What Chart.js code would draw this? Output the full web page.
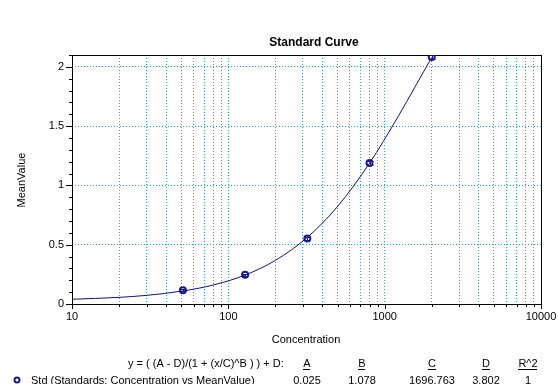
<!DOCTYPE html>
<html>
<head>
<meta charset="utf-8">
<script src="https://cdn.jsdelivr.net/npm/chart.js@4"></script>
<style>
  body { margin: 0; background: #fff; }
  #wrap { width: 558px; height: 384px; }
</style>
</head>
<body>
<div id="wrap"><canvas id="stdCurve" width="558" height="384"></canvas></div>
<script>
// standards (measured points)
const stdConc = [51.2, 128, 320, 800, 2000];
const stdMean = [0.115, 0.247, 0.553, 1.19, 2.083];
const stdErr  = [0.008, 0.008, 0.012, 0.015, 0.015];

// fitted curve
const fitConc = [10, 20, 30, 51.2, 80, 128, 200, 320, 500, 800, 1200, 1600, 2000];
const fitMean = [0.04, 0.056, 0.073, 0.11, 0.16, 0.244, 0.368, 0.562, 0.823, 1.188, 1.565, 1.854, 2.08];

// tick positions
const xTickValues = [10, 20, 30, 40, 50, 60, 70, 80, 90,
                     100, 200, 300, 400, 500, 600, 700, 800, 900,
                     1000, 2000, 3000, 4000, 5000, 6000, 7000, 8000, 9000, 10000];
const xTickLabels = ['10', '100', '1000', '10000'];
const yTickValues = [0, 0.1, 0.2, 0.3, 0.4, 0.5, 0.6, 0.7, 0.8, 0.9, 1, 1.1, 1.2, 1.3, 1.4,
                     1.5, 1.6, 1.7, 1.8, 1.9, 2, 2.1];
const yTickLabels = ['0', '0.5', '1', '1.5', '2'];

// fit parameters table
const paramNames  = ['A', 'B', 'C', 'D', 'R^2'];
const paramValues = ['0.025', '1.078', '1696.763', '3.802', '1'];

const FONT = '"Liberation Sans", Arial, sans-serif';
const NAVY = '#1a1a8c';
const GRID = '#22a8b8';

function isLabelled(v, labels) {
    return labels.some(l => Math.abs(parseFloat(l) - v) < 1e-6);
}

// frame, tick marks, error bars and all the loose text
const extras = {
    id: 'extras',
    afterDraw(chart) {
        const c = chart.ctx;
        const a = chart.chartArea;
        const xs = chart.scales.x, ys = chart.scales.y;
        c.save();

        // frame
        c.strokeStyle = '#000';
        c.lineWidth = 1;
        c.strokeRect(Math.round(a.left) + 0.5, Math.round(a.top) + 0.5,
                     Math.round(a.right - a.left), Math.round(a.bottom - a.top));

        // x ticks
        c.beginPath();
        xTickValues.forEach(v => {
            const px = Math.round(xs.getPixelForValue(v)) + 0.5;
            const len = isLabelled(v, xTickLabels) ? 5 : 3;
            c.moveTo(px, a.bottom);
            c.lineTo(px, a.bottom + len);
        });
        // y ticks
        yTickValues.forEach(v => {
            const py = Math.round(ys.getPixelForValue(v)) + 0.5;
            const len = isLabelled(v, yTickLabels) ? 6 : 3;
            c.moveTo(a.left, py);
            c.lineTo(a.left - len, py);
        });
        c.stroke();

        // error bars on standards
        c.strokeStyle = NAVY;
        c.lineWidth = 1;
        c.beginPath();
        stdConc.forEach((x, i) => {
            const px = Math.round(xs.getPixelForValue(x)) + 0.5;
            const top = Math.round(ys.getPixelForValue(stdMean[i] + stdErr[i])) + 0.5;
            const bot = Math.round(ys.getPixelForValue(stdMean[i] - stdErr[i])) + 0.5;
            c.moveTo(px, top); c.lineTo(px, bot);
            c.moveTo(px - 3, top); c.lineTo(px + 3, top);
            c.moveTo(px - 3, bot); c.lineTo(px + 3, bot);
        });
        c.stroke();

        // title + axis titles
        c.fillStyle = '#000';
        c.textAlign = 'center';
        c.textBaseline = 'middle';
        c.font = 'bold 12px ' + FONT;
        c.fillText('Standard Curve', 314, 43);
        c.font = '11px ' + FONT;
        c.fillText('Concentration', 306, 340);
        c.save();
        c.translate(22, 180);
        c.rotate(-Math.PI / 2);
        c.fillText('MeanValue', 0, 0);
        c.restore();

        // equation and parameter table
        c.textAlign = 'left';
        c.fillText('y = ( (A - D)/(1 + (x/C)^B ) ) + D:', 128, 364);
        c.fillText('Std (Standards: Concentration vs MeanValue)', 31, 381);
        const colX = [307, 362, 432, 486, 528];
        c.textAlign = 'center';
        paramNames.forEach((n, i) => {
            c.fillText(n, colX[i], 364);
            const w = c.measureText(n).width;
            c.fillRect(Math.round(colX[i] - w / 2), 369, Math.round(w), 1);
            c.fillText(paramValues[i], colX[i], 381);
        });

        // legend marker
        c.strokeStyle = NAVY;
        c.lineWidth = 2;
        c.beginPath();
        c.arc(17, 380, 2.5, 0, Math.PI * 2);
        c.stroke();

        c.restore();
    }
};

new Chart(document.getElementById('stdCurve'), {
    type: 'scatter',
    data: {
        datasets: [{
            label: 'Fit',
            data: fitConc.map((x, i) => ({ x: x, y: fitMean[i] })),
            showLine: true,
            borderColor: '#14146e',
            borderWidth: 1,
            pointRadius: 0,
            cubicInterpolationMode: 'monotone',
            fill: false
        }, {
            label: 'Std (Standards: Concentration vs MeanValue)',
            data: stdConc.map((x, i) => ({ x: x, y: stdMean[i] })),
            pointStyle: 'circle',
            pointRadius: 3,
            borderWidth: 2,
            borderColor: NAVY,
            backgroundColor: 'rgba(0,0,0,0)'
        }]
    },
    options: {
        responsive: false,
        devicePixelRatio: 1,
        animation: false,
        layout: { padding: { top: 55, right: 17, left: 0, bottom: 0 } },
        plugins: {
            legend: { display: false },
            title: { display: false },
            tooltip: { enabled: false }
        },
        scales: {
            x: {
                type: 'logarithmic',
                min: 10,
                max: 10000,
                afterBuildTicks: s => { s.ticks = xTickValues.map(v => ({ value: v })); },
                afterFit: s => { s.height = 80; s.paddingLeft = 0; s.paddingRight = 0; },
                ticks: {
                    autoSkip: false,
                    maxRotation: 0,
                    padding: 6,
                    color: '#000',
                    font: { family: FONT, size: 11 },
                    callback: v => isLabelled(v, xTickLabels) ? String(v) : ''
                },
                grid: { color: GRID, lineWidth: 1, drawTicks: false },
                border: { display: false, dash: [1, 2] }
            },
            y: {
                min: 0,
                max: 2.1,
                afterBuildTicks: s => { s.ticks = yTickValues.map(v => ({ value: v })); },
                afterFit: s => { s.width = 72; s.paddingTop = 0; s.paddingBottom = 0; },
                ticks: {
                    autoSkip: false,
                    padding: 8,
                    color: '#000',
                    font: { family: FONT, size: 11 },
                    callback: v => isLabelled(v, yTickLabels) ? String(Math.round(v * 10) / 10) : ''
                },
                grid: {
                    drawTicks: false,
                    lineWidth: 1,
                    color: ctx => (ctx.tick && ctx.tick.value > 0 && isLabelled(ctx.tick.value, yTickLabels)) ? GRID : 'rgba(0,0,0,0)'
                },
                border: { display: false, dash: [1, 2] }
            }
        }
    },
    plugins: [extras]
});
</script>
</body>
</html>
